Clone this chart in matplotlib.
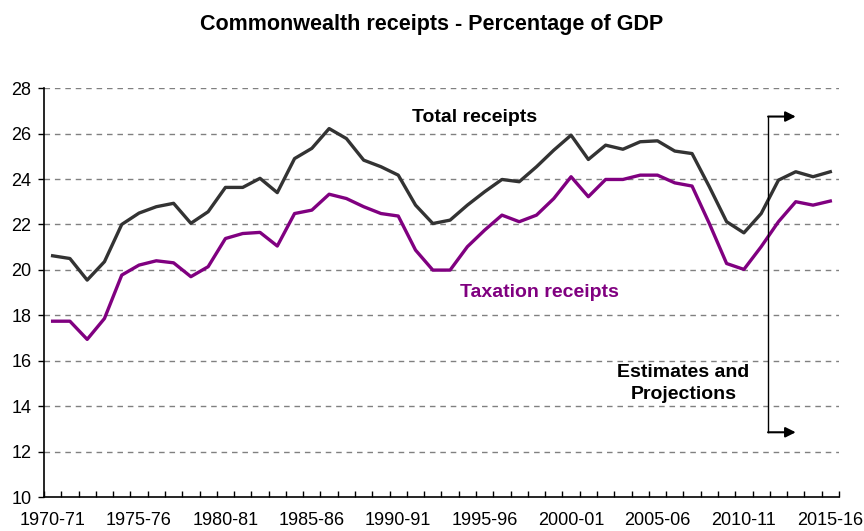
import matplotlib
matplotlib.use("Agg")
import matplotlib.pyplot as plt
import numpy as np

plt.rcParams["font.family"] = ["Liberation Sans", "DejaVu Sans"]

years = [f"{y}-{(y + 1) % 100:02d}" for y in range(1970, 2016)]

total_receipts = [
    20.62, 20.50, 19.55, 20.36, 22.00, 22.50, 22.78, 22.93, 22.05, 22.56,
    23.63, 23.63, 24.03, 23.40, 24.90, 25.35, 26.22, 25.78, 24.83, 24.54,
    24.17, 22.85, 22.04, 22.19, 22.85, 23.44, 23.98, 23.88, 24.54, 25.27,
    25.93, 24.86, 25.49, 25.31, 25.64, 25.68, 25.23, 25.12, 23.66, 22.12,
    21.63, 22.48, 23.95, 24.32, 24.10, 24.32,
]
taxation_receipts = [
    17.74, 17.74, 16.94, 17.86, 19.77, 20.21, 20.40, 20.31, 19.70, 20.14,
    21.38, 21.60, 21.65, 21.05, 22.48, 22.63, 23.33, 23.14, 22.78, 22.48,
    22.37, 20.87, 19.99, 19.99, 21.02, 21.75, 22.41, 22.12, 22.41, 23.14,
    24.10, 23.22, 23.98, 23.98, 24.17, 24.17, 23.83, 23.69, 22.04, 20.28,
    20.02, 21.02, 22.12, 23.00, 22.85, 23.03,
]

x = np.arange(len(years))

fig = plt.figure(figsize=(8.64, 5.31), dpi=100)
ax = fig.add_axes([0.0509, 0.064, 0.9201, 0.770])

ax.plot(x, total_receipts, color="#333333", linewidth=2.4)
ax.plot(x, taxation_receipts, color="#800080", linewidth=2.4)

ax.set_xlim(-0.5, len(years) - 0.5)
ax.set_ylim(10, 28)
ax.set_yticks(np.arange(10, 29, 2))
for yv in range(12, 29, 2):
    ax.axhline(yv, color="#808080", linewidth=1.0, linestyle=(0, (4, 3.5)), zorder=0)

ax.set_xticks(x[::5])
ax.set_xticklabels(years[::5])
ax.set_xticks(np.arange(-0.5, len(years)), minor=True)
ax.tick_params(axis="x", which="major", length=0, pad=11, labelsize=13)
ax.tick_params(axis="x", which="minor", direction="in", length=4, width=1)
ax.tick_params(axis="y", which="major", direction="out", length=4, width=1, labelsize=13, pad=5)

for side in ("top", "right"):
    ax.spines[side].set_visible(False)
for side in ("left", "bottom"):
    ax.spines[side].set_linewidth(1.2)

ax.text(20.8, 26.72, "Total receipts", fontsize=14, fontweight="bold", color="black",
        ha="left", va="center")
ax.text(23.6, 19.0, "Taxation receipts", fontsize=14, fontweight="bold", color="#800080",
        ha="left", va="center")
ax.text(36.5, 15.0, "Estimates and\nProjections", fontsize=14, fontweight="bold",
        color="black", ha="center", va="center", linespacing=1.4)

split = 41.4
ax.plot([split, split], [12.85, 26.75], color="black", linewidth=1.0)
for yv in (26.75, 12.85):
    ax.annotate("", xy=(43.0, yv), xytext=(split, yv),
                arrowprops=dict(arrowstyle="-|>", color="black", lw=1.5,
                                mutation_scale=15, shrinkA=0, shrinkB=0))

fig.text(0.5, 0.953, "Commonwealth receipts - Percentage of GDP", ha="center", va="center",
         fontsize=15.5, fontweight="bold")

fig.savefig("out.png", dpi=100)
